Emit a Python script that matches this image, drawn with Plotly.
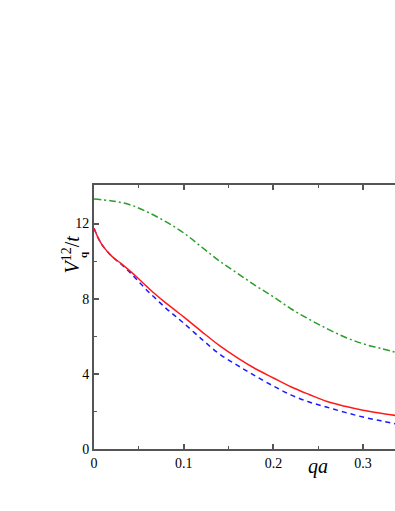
import plotly.graph_objects as go

# qa grid and V_q^12/t values
qa = [0, 0.005, 0.01, 0.02, 0.03, 0.04, 0.05, 0.06, 0.07, 0.08, 0.09, 0.10,
      0.12, 0.14, 0.16, 0.18, 0.20, 0.22, 0.24, 0.26, 0.28, 0.30, 0.32, 0.34]
v_red = [11.75, 11.2, 10.8, 10.25, 9.88, 9.48, 9.05, 8.6, 8.17, 7.78, 7.4, 7.03,
         6.25, 5.5, 4.85, 4.27, 3.78, 3.3, 2.9, 2.53, 2.27, 2.06, 1.9, 1.76]
v_blue = [11.75, 11.2, 10.8, 10.25, 9.85, 9.4, 8.9, 8.4, 7.95, 7.5, 7.1, 6.7,
          5.85, 5.05, 4.45, 3.88, 3.35, 2.87, 2.5, 2.22, 1.95, 1.7, 1.5, 1.3]
qa_g = [0, 0.02, 0.04, 0.06, 0.08, 0.10, 0.12, 0.14, 0.16, 0.18, 0.20,
        0.22, 0.24, 0.26, 0.28, 0.30, 0.32, 0.34]
v_green = [13.3, 13.2, 13.0, 12.6, 12.1, 11.5, 10.75, 10.0, 9.35, 8.7, 8.1,
           7.45, 6.9, 6.4, 5.95, 5.6, 5.35, 5.1]

xticks = [0, 0.1, 0.2, 0.3]
yticks = [0, 4, 8, 12]

serif = "Times New Roman, Liberation Serif, serif"
axcol = "#555555"

fig = go.Figure()
fig.add_trace(go.Scatter(x=qa_g, y=v_green, mode="lines", line_shape="spline",
                         line=dict(color="#2a9d2a", width=1.5, dash="7px,3px,2px,3px")))
fig.add_trace(go.Scatter(x=qa, y=v_blue, mode="lines", line_shape="spline",
                         line=dict(color="#1a1aff", width=1.5, dash="5px,4px")))
fig.add_trace(go.Scatter(x=qa, y=v_red, mode="lines", line_shape="spline",
                         line=dict(color="#ff1a1a", width=1.5)))

fig.update_xaxes(range=[0, 0.3356], tickvals=xticks, ticktext=["0", "0.1", "0.2", "0.3"],
                 ticks="inside", ticklen=5, tickwidth=1.5, tickcolor=axcol,
                 minor=dict(ticks="inside", ticklen=3, tickwidth=1.2, tickcolor=axcol, dtick=0.05, tick0=0),
                 showline=True, linecolor=axcol, linewidth=2, mirror="ticks",
                 showgrid=False, zeroline=False,
                 tickfont=dict(family=serif, size=14, color="black"))
fig.update_yaxes(range=[0, 14.05], tickvals=yticks,
                 ticks="inside", ticklen=5, tickwidth=1.5, tickcolor=axcol,
                 minor=dict(ticks="inside", ticklen=3, tickwidth=1.2, tickcolor=axcol, dtick=2, tick0=0),
                 showline=True, linecolor=axcol, linewidth=2,
                 showgrid=False, zeroline=False,
                 tickfont=dict(family=serif, size=14, color="black"))

# axis titles
fig.add_annotation(text="<i>V</i><sup>12</sup>/<i>t</i>", textangle=-90,
                   xref="paper", yref="paper", x=-0.078, y=0.735,
                   xanchor="center", yanchor="middle", showarrow=False,
                   font=dict(family=serif, size=20, color="black"))
fig.add_annotation(text="<b>q</b>", textangle=-90,
                   xref="paper", yref="paper", x=-0.036, y=0.735,
                   xanchor="center", yanchor="middle", showarrow=False,
                   font=dict(family=serif, size=11, color="black"))
fig.add_annotation(text="<i>qa</i>", xref="paper", yref="paper", x=0.744, y=-0.066,
                   xanchor="center", yanchor="middle", showarrow=False,
                   font=dict(family=serif, size=20, color="black"))

fig.update_layout(width=395, height=511, showlegend=False,
                  margin=dict(l=94, r=0, t=185, b=61.5),
                  font=dict(family=serif),
                  plot_bgcolor="white", paper_bgcolor="white")

# drop the default 8px body margin so the figure fills the window exactly
fig.write_html("out.html", config={"displayModeBar": False},
               post_script="document.body.style.margin='0px';")
